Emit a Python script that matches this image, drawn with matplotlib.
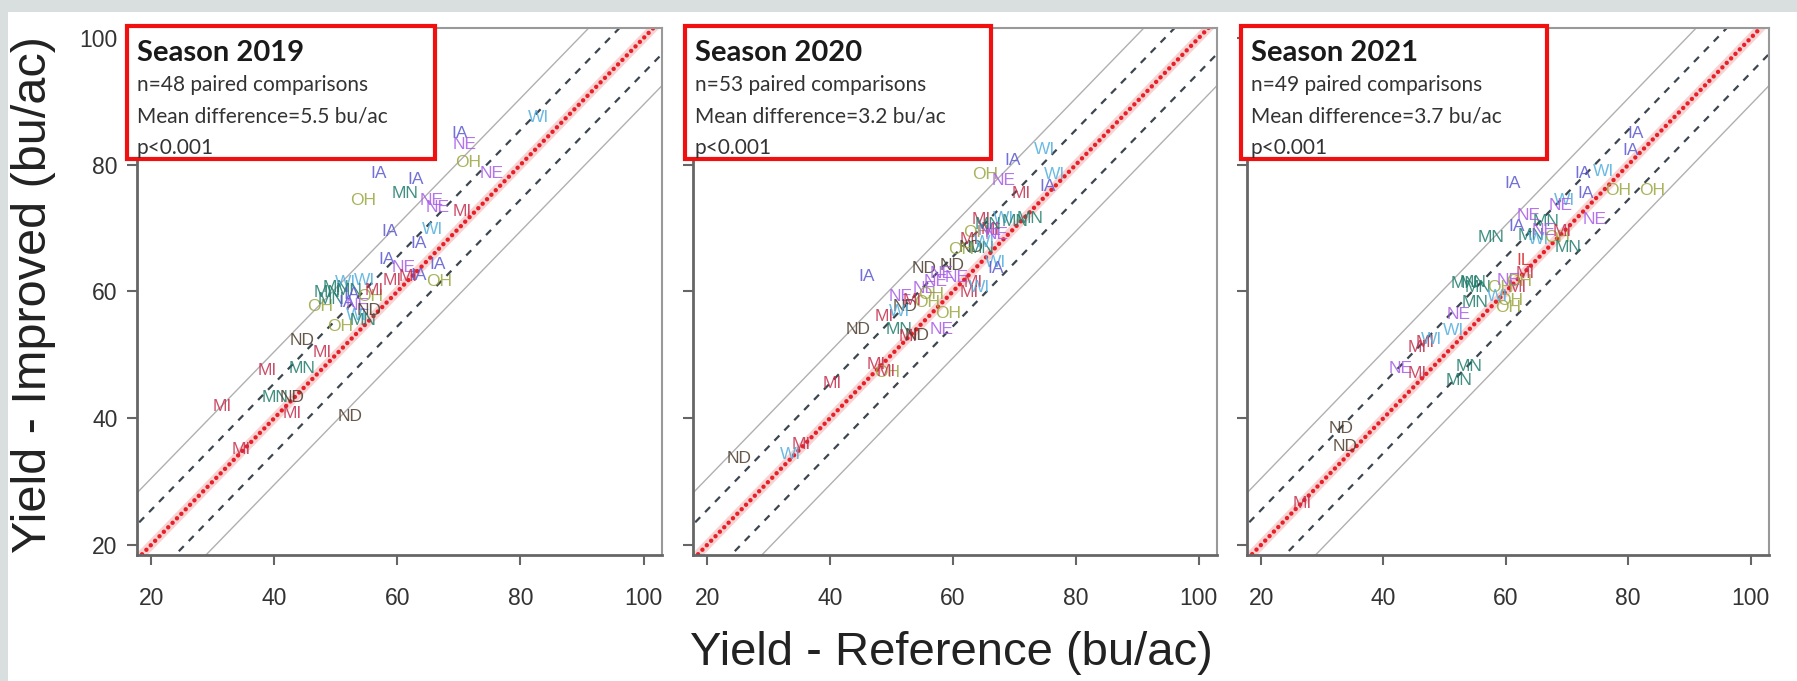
import matplotlib.pyplot as plt
from matplotlib.patches import Rectangle

# ---- data ----
states_2019 = ["WI", "IA", "NE", "OH", "NE", "IA", "IA", "MN", "OH", "NE", "NE", "MI",
               "IA", "WI", "IA", "IA", "NE", "IA", "MI", "MI", "IA", "OH", "WI",
               "MN", "MN", "WI", "MN", "OH", "MN", "IA", "NE", "OH", "MI", "WI", "ND",
               "OH", "MN", "IA",
               "ND", "MI", "MI", "MN", "MN", "ND", "MI", "MI", "ND", "MI"]
x_2019 = [83.0, 70.2, 71.0, 71.5, 75.3, 57.0, 63.0, 61.2, 54.5, 65.6, 66.5, 70.6,
          58.8, 65.8, 63.5, 58.3, 61.0, 66.6, 59.2, 61.8, 63.4, 66.8, 54.7,
          48.6, 50.0, 51.6, 52.2, 47.4, 49.2, 51.8, 53.6, 55.6, 56.2, 53.4, 55.4,
          50.7, 54.4, 52.6,
          44.5, 47.8, 38.8, 44.5, 40.2, 42.9, 31.5, 42.9, 52.3, 34.6]
y_2019 = [87.5, 85.0, 83.2, 80.3, 78.6, 78.7, 77.7, 75.5, 74.4, 74.3, 73.3, 72.6,
          69.4, 69.8, 67.6, 65.0, 63.8, 64.2, 61.8, 62.4, 62.6, 61.6, 61.8,
          59.8, 60.6, 61.4, 60.2, 57.6, 58.8, 58.2, 57.8, 59.2, 60.2, 56.2, 57.0,
          54.4, 55.4, 59.6,
          52.3, 50.4, 47.6, 47.9, 43.3, 43.3, 41.8, 40.8, 40.2, 35.0]

states_2020 = ["WI", "IA", "OH", "NE", "WI", "IA", "MI", "MI", "WI", "MN", "MN", "OH",
               "MI", "NE", "MI", "ND", "MN", "WI", "IA", "ND", "ND", "NE", "IA", "MI",
               "MI", "WI", "NE", "NE", "OH", "ND", "MI", "WI", "OH", "NE", "ND", "MN",
               "MI", "ND", "MI", "OH", "MI", "MI", "WI", "ND",
               "NE", "WI", "OH", "MN", "NE", "OH", "MI", "NE", "MI"]
x_2020 = [75.0, 69.7, 65.2, 68.3, 76.6, 75.5, 71.1, 64.6, 68.3, 72.5, 70.2, 63.8,
          66.1, 67.2, 62.7, 63.0, 64.6, 66.9, 67.0, 55.3, 59.9, 58.2, 45.9, 63.4,
          62.6, 64.4, 55.4, 51.5, 55.8, 52.2, 48.8, 51.4, 59.2, 58.2, 44.5, 51.2,
          52.7, 54.2, 47.6, 49.3, 40.3, 35.3, 33.6, 25.2,
          66.0, 65.2, 61.4, 65.8, 57.2, 56.5, 53.4, 60.6, 49.2]
y_2020 = [82.4, 80.7, 78.4, 77.6, 78.4, 76.6, 75.5, 71.3, 71.5, 71.5, 71.0, 69.3,
          69.8, 69.0, 68.2, 67.0, 66.8, 64.6, 63.6, 63.6, 64.1, 62.8, 62.3, 61.4,
          59.9, 60.6, 60.5, 59.2, 58.2, 57.6, 56.1, 56.8, 56.6, 54.0, 54.0, 54.0,
          52.9, 53.0, 48.5, 47.2, 45.4, 35.9, 34.3, 33.6,
          69.6, 67.8, 66.6, 70.6, 61.6, 59.6, 58.6, 62.2, 47.4]

states_2021 = ["IA", "IA", "IA", "IA", "IA", "IA", "IA", "WI", "OH", "OH", "IA", "WI",
               "NE", "NE", "IA", "MN", "MN", "MN", "WI", "OH", "MI", "MN", "NE", "IL",
               "MI", "MI", "MN", "MN", "MN", "OH", "NE", "MN", "OH", "OH", "NE", "WI",
               "MI", "WI", "MI", "NE", "MI", "MN", "MN", "ND", "ND", "MI",
               "OH", "NE", "WI"]
x_2021 = [63.4, 65.5, 65.6, 81.2, 80.4, 61.1, 72.5, 76.0, 78.3, 83.9, 73.0, 69.6,
          68.9, 74.5, 61.7, 57.6, 66.6, 64.2, 65.4, 68.4, 69.2, 70.1, 66.2, 62.9,
          63.2, 61.9, 53.2, 54.6, 55.5, 59.1, 60.4, 55.0, 60.7, 60.3, 52.2, 51.4,
          46.8, 47.8, 45.6, 42.8, 45.6, 54.0, 52.3, 33.0, 33.8, 26.7,
          62.2, 63.8, 58.6]
y_2021 = [94.4, 83.9, 82.6, 85.0, 82.3, 77.1, 78.7, 78.9, 76.0, 76.0, 75.5, 74.4,
          73.6, 71.3, 70.2, 68.6, 71.0, 68.8, 68.2, 68.6, 69.4, 67.0, 69.6, 64.9,
          62.9, 60.7, 61.3, 61.4, 60.7, 60.7, 61.8, 58.2, 58.6, 57.4, 56.3, 53.9,
          51.9, 52.4, 51.2, 47.9, 47.1, 48.1, 46.0, 38.4, 35.5, 26.6,
          61.6, 72.0, 59.2]

seasons = ["Season 2019", "Season 2020", "Season 2021"]
n_pairs = [48, 53, 49]
mean_diff = [5.5, 3.2, 3.7]
p_text = ["p<0.001", "p<0.001", "p<0.001"]

state_colors = {"IA": "#5a58d0", "NE": "#a65de6", "WI": "#52aede", "OH": "#9aa63e",
                "MI": "#c42f4e", "MN": "#1f7d6c", "ND": "#4b3c2c", "IL": "#d42222"}

# ---- layout (pixels of the 1797x681 canvas) ----
W, H = 1797, 681
panel_px = [(137, 662), (693, 1217), (1247, 1769)]
top_px, bot_px = 28, 555
box_px = [(127, 435), (685, 991), (1241, 1547)]
box_top, box_bot = 26, 159

fig = plt.figure(figsize=(W / 100, H / 100), dpi=100, facecolor="#d9dfdf")
fig.add_artist(Rectangle((8 / W, 0), 1, 1 - 12 / H, transform=fig.transFigure,
                         facecolor="white", edgecolor="none", zorder=0))

font = "Liberation Sans"
panels = [(states_2019, x_2019, y_2019), (states_2020, x_2020, y_2020),
          (states_2021, x_2021, y_2021)]

for i, (states, xs, ys) in enumerate(panels):
    l, r = panel_px[i]
    ax = fig.add_axes([l / W, 1 - bot_px / H, (r - l) / W, (bot_px - top_px) / H])
    ax.set_facecolor("white")
    ax.set_xlim(17.7, 103.0)
    ax.set_ylim(18.4, 101.6)

    xx = [10, 110]
    for off in (-10.5, 10.5):
        ax.plot(xx, [v + off for v in xx], color="#b0b0b0", lw=1.0, zorder=1)
    for off in (-5.5, 5.5):
        ax.plot(xx, [v + off for v in xx], color="#3c4650", lw=1.6,
                dashes=(3.2, 3.2), zorder=1)
    ax.plot(xx, xx, color="#f08080", lw=6.5, alpha=0.35, zorder=2)
    ax.plot(xx, xx, color="#e8202a", lw=3.2, dashes=(0.01, 1.4),
            dash_capstyle="round", zorder=2)

    for s, x, y in zip(states, xs, ys):
        ax.text(x, y, s, color=state_colors[s], fontsize=12.5, family=font,
                ha="center", va="center", alpha=0.85, zorder=3)

    ax.set_xticks([20, 40, 60, 80, 100])
    ax.set_yticks([20, 40, 60, 80, 100])
    ax.tick_params(direction="out", length=7, width=1.5, color="#666666",
                   labelsize=16.5, labelcolor="#333333")
    ax.tick_params(axis="x", pad=16)
    ax.tick_params(axis="y", pad=7)
    for lab in ax.get_xticklabels() + ax.get_yticklabels():
        lab.set_family(font)
    if i > 0:
        ax.set_yticklabels([])
    for side in ("left", "bottom"):
        ax.spines[side].set_color("#666666")
        ax.spines[side].set_linewidth(2)
    for side in ("top", "right"):
        ax.spines[side].set_color("#999999")
        ax.spines[side].set_linewidth(1.5)

    # annotation box
    bl, br = box_px[i]
    fig.add_artist(Rectangle((bl / W, 1 - box_bot / H), (br - bl) / W,
                             (box_bot - box_top) / H, transform=fig.transFigure,
                             facecolor="white", edgecolor="#f01010", lw=3, zorder=5))
    tx = (bl + 10) / W
    fig.text(tx, 1 - (box_top + 27) / H, seasons[i], fontsize=21, weight="bold",
             family="Lato", color="#1a1a1a", va="center", zorder=6)
    lines = [f"n={n_pairs[i]} paired comparisons",
             f"Mean difference={mean_diff[i]} bu/ac", p_text[i]]
    for k, txt in enumerate(lines):
        fig.text(tx, 1 - (box_top + 59 + 31.5 * k) / H, txt, fontsize=15,
                 family="Lato", color="#333333", va="center", zorder=6)

fig.text(951 / W, 1 - 653 / H, "Yield - Reference (bu/ac)", fontsize=34,
         family=font, color="#222222", ha="center", va="center")
fig.text(34 / W, 1 - 295 / H, "Yield - Improved (bu/ac)", fontsize=35,
         family=font, color="#222222", ha="center", va="center", rotation=90)

fig.savefig("out.png", dpi=100, facecolor=fig.get_facecolor())
